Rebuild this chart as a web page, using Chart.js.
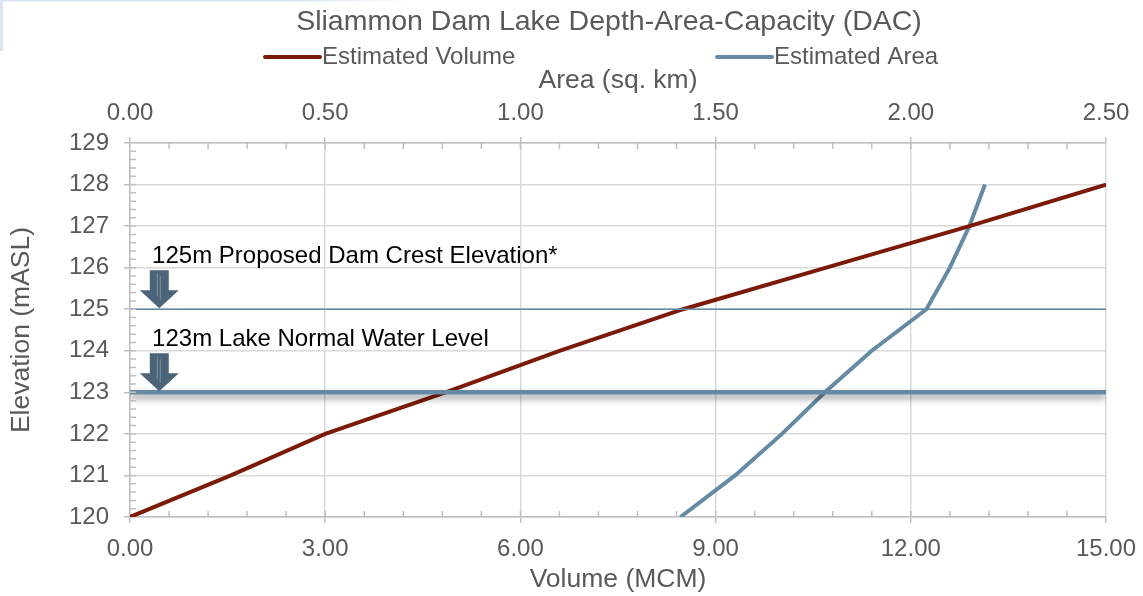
<!DOCTYPE html>
<html>
<head>
<meta charset="utf-8">
<title>Sliammon Dam Lake DAC</title>
<script src="https://cdn.jsdelivr.net/npm/chart.js@4.4.0/dist/chart.umd.min.js"></script>
<style>
  html, body { margin: 0; padding: 0; background: #fff; }
</style>
</head>
<body>
<canvas id="dacCanvas" width="1143" height="596"></canvas>
<script>
// elevation steps (mASL)
let elevations = [120, 121, 122, 123, 124, 125, 126, 127, 128];
// estimated volume (MCM) at each elevation
let volumeData = [0.00, 1.55, 3.00, 4.85, 6.60, 8.50, 10.70, 12.90, 15.00];
// estimated area (sq. km) at each elevation
let areaData = [1.41, 1.55, 1.67, 1.78, 1.90, 2.04, 2.10, 2.15, 2.19];

// reference levels drawn across the plot
let levelValues = [125, 123];
let levelLabels = ["125m Proposed Dam Crest Elevation*", "123m Lake Normal Water Level"];
let levelWidths = [1.5, 4.5];

// tick values for each axis
let volumeTicks = [0, 3, 6, 9, 12, 15];
let areaTicks = [0, 0.5, 1, 1.5, 2, 2.5];
let elevationTicks = [120, 121, 122, 123, 124, 125, 126, 127, 128, 129];

const FONT = "'Liberation Sans', Arial, sans-serif";
const TEXT_GREY = '#595959';
const AXIS_GREY = '#bfbfbf';
const GRID_GREY = '#d9d9d9';
const RED = '#7b1a06';
const BLUE = '#658aa3';
const ARROW = '#4b6479';
const TITLE_TEXT = 'Sliammon Dam Lake Depth-Area-Capacity (DAC)';

// build the level line datasets from the arrays above
let levelSets = levelValues.map(function (lv, i) {
  return {
    label: levelLabels[i],
    data: [{x: volumeTicks[0], y: lv}, {x: volumeTicks[volumeTicks.length - 1], y: lv}],
    borderColor: BLUE,
    borderWidth: levelWidths[i],
    pointRadius: 0,
    xAxisID: 'x'
  };
});

// draw small ticks between the major ones
function minorTicks(ctx, scale, min, max, step, vertical, edge, len) {
  let n = Math.round((max - min) / step);
  ctx.beginPath();
  for (let i = 1; i < n; i++) {
    let v = min + i * step;
    let p = scale.getPixelForValue(v);
    if (vertical) {
      ctx.moveTo(edge, p);
      ctx.lineTo(edge + len, p);
    } else {
      ctx.moveTo(p, edge);
      ctx.lineTo(p, edge + len);
    }
  }
  ctx.stroke();
}

function drawArrow(ctx, cx, tipY) {
  let shaftW = 19, headW = 39, shaftH = 20, headH = 18;
  ctx.fillStyle = ARROW;
  ctx.beginPath();
  ctx.moveTo(cx - shaftW / 2, tipY - headH - shaftH);
  ctx.lineTo(cx + shaftW / 2, tipY - headH - shaftH);
  ctx.lineTo(cx + shaftW / 2, tipY - headH);
  ctx.lineTo(cx + headW / 2, tipY - headH);
  ctx.lineTo(cx, tipY);
  ctx.lineTo(cx - headW / 2, tipY - headH);
  ctx.lineTo(cx - shaftW / 2, tipY - headH);
  ctx.closePath();
  ctx.fill();
  // faint highlight inside the shaft
  ctx.strokeStyle = 'rgba(255,255,255,0.3)';
  ctx.lineWidth = 1;
  ctx.beginPath();
  ctx.moveTo(cx - 2, tipY - headH - shaftH + 3);
  ctx.lineTo(cx - 2, tipY - headH + 6);
  ctx.moveTo(cx + 1, tipY - headH - shaftH + 6);
  ctx.lineTo(cx + 1, tipY - headH + 9);
  ctx.stroke();
}

// keep the plot edges fixed, ignore label overhang
function noOverhang(s) {
  s.paddingLeft = 0;
  s.paddingRight = 0;
}

const dacExtras = {
  id: 'dacExtras',
  beforeDraw(chart) {
    // light frame in the top-left corner
    let ctx = chart.ctx;
    ctx.save();
    let g = ctx.createLinearGradient(0, 0, 420, 0);
    g.addColorStop(0, '#dbe5ef');
    g.addColorStop(0.7, '#dbe5ef');
    g.addColorStop(1, 'rgba(219,229,239,0)');
    ctx.fillStyle = g;
    ctx.fillRect(0, 0, 420, 1.5);
    ctx.fillStyle = '#dbe5ef';
    ctx.fillRect(0, 0, 3, 51);
    ctx.restore();
  },
  beforeDatasetDraw(chart, args) {
    if (chart.data.datasets[args.index].label === levelLabels[1]) {
      let ctx = chart.ctx;
      ctx.save();
      ctx.shadowColor = 'rgba(0,0,0,0.45)';
      ctx.shadowBlur = 7;
      ctx.shadowOffsetY = 4;
    }
  },
  afterDatasetDraw(chart, args) {
    if (chart.data.datasets[args.index].label === levelLabels[1]) {
      chart.ctx.restore();
    }
  },
  afterDraw(chart) {
    let ctx = chart.ctx;
    let area = chart.chartArea;
    let xs = chart.scales.x, x2 = chart.scales.x2, ys = chart.scales.y;
    ctx.save();

    // chart title
    ctx.fillStyle = TEXT_GREY;
    ctx.font = '28.5px ' + FONT;
    ctx.textAlign = 'center';
    ctx.textBaseline = 'middle';
    ctx.fillText(TITLE_TEXT, 609, 22);

    // minor ticks
    ctx.strokeStyle = AXIS_GREY;
    ctx.lineWidth = 1.5;
    minorTicks(ctx, ys, 120, 129, 0.2, true, area.left, 6);
    minorTicks(ctx, xs, 0, 15, 0.6, false, area.bottom, -6);
    minorTicks(ctx, x2, 0, 2.5, 0.1, false, area.top, 6);

    // arrows and level labels
    ctx.font = '24px ' + FONT;
    ctx.textBaseline = 'alphabetic';
    ctx.textAlign = 'left';
    levelValues.forEach(function (lv, i) {
      let tip = ys.getPixelForValue(lv);
      drawArrow(ctx, xs.getPixelForValue(0.45), tip - 1);
      ctx.fillStyle = '#000';
      ctx.fillText(levelLabels[i], xs.getPixelForValue(0.34), tip - 46);
    });

    // legend
    let items = [
      {text: 'Estimated Volume', color: RED, x: 265},
      {text: 'Estimated Area', color: BLUE, x: 717}
    ];
    ctx.textBaseline = 'middle';
    items.forEach(function (it) {
      ctx.strokeStyle = it.color;
      ctx.lineWidth = 4;
      ctx.lineCap = 'round';
      ctx.beginPath();
      ctx.moveTo(it.x, 57);
      ctx.lineTo(it.x + 55, 57);
      ctx.stroke();
      ctx.fillStyle = TEXT_GREY;
      ctx.fillText(it.text, it.x + 57, 57);
    });
    ctx.restore();
  }
};

let ctxDac = document.getElementById('dacCanvas').getContext('2d');

let dacChart = new Chart(ctxDac, {
  type: 'line',
  data: {
    datasets: levelSets.concat([
      {
        label: 'Estimated Volume',
        data: elevations.map(function (e, i) { return {x: volumeData[i], y: e}; }),
        borderColor: RED,
        borderWidth: 4,
        pointRadius: 0,
        tension: 0,
        xAxisID: 'x'
      },
      {
        label: 'Estimated Area',
        data: elevations.map(function (e, i) { return {x: areaData[i], y: e}; }),
        borderColor: BLUE,
        borderWidth: 4,
        pointRadius: 0,
        tension: 0,
        xAxisID: 'x2'
      }
    ])
  },
  options: {
    responsive: false,
    animation: false,
    events: [],
    layout: { padding: { left: 0, right: 37, top: 0, bottom: 0 } },
    plugins: {
      legend: { display: false },
      tooltip: { enabled: false },
      title: { display: false }
    },
    scales: {
      x: {
        type: 'linear',
        position: 'bottom',
        min: 0,
        max: 15,
        afterBuildTicks: function (s) { s.ticks = volumeTicks.map(function (v) { return {value: v}; }); },
        afterFit: function (s) { s.height = 79; noOverhang(s); },
        ticks: {
          autoSkip: false, maxRotation: 0, padding: 12,
          color: TEXT_GREY, font: { family: FONT, size: 24 },
          callback: function (v) { return Number(v).toFixed(2); }
        },
        grid: { color: GRID_GREY, lineWidth: 1.5, tickColor: AXIS_GREY, tickLength: 6 },
        border: { color: AXIS_GREY, width: 1.5 },
        title: {
          display: true, text: 'Volume (MCM)', color: TEXT_GREY,
          font: { family: FONT, size: 26.5 }, padding: { top: 0, bottom: 0 }
        }
      },
      x2: {
        type: 'linear',
        position: 'top',
        min: 0,
        max: 2.5,
        afterBuildTicks: function (s) { s.ticks = areaTicks.map(function (v) { return {value: v}; }); },
        afterFit: function (s) { s.height = 143; noOverhang(s); },
        ticks: {
          autoSkip: false, maxRotation: 0, padding: 9,
          color: TEXT_GREY, font: { family: FONT, size: 24 },
          callback: function (v) { return Number(v).toFixed(2); }
        },
        grid: { drawOnChartArea: false, tickColor: AXIS_GREY, tickLength: 6, lineWidth: 1.5 },
        border: { color: AXIS_GREY, width: 1.5 },
        title: {
          display: true, text: 'Area (sq. km)', color: TEXT_GREY,
          font: { family: FONT, size: 26.5 }, padding: { top: 65, bottom: 0 }
        }
      },
      y: {
        type: 'linear',
        position: 'left',
        min: 120,
        max: 129,
        afterBuildTicks: function (s) { s.ticks = elevationTicks.map(function (v) { return {value: v}; }); },
        afterFit: function (s) { s.width = 130; },
        ticks: {
          padding: 15,
          color: TEXT_GREY, font: { family: FONT, size: 24 }
        },
        grid: { color: GRID_GREY, lineWidth: 1.5, tickColor: AXIS_GREY, tickLength: 6 },
        border: { color: AXIS_GREY, width: 1.5 },
        title: {
          display: true, text: 'Elevation (mASL)', color: TEXT_GREY,
          font: { family: FONT, size: 26.5 }, padding: { top: 6, bottom: 0 }
        }
      }
    }
  },
  plugins: [dacExtras]
});
</script>
</body>
</html>
